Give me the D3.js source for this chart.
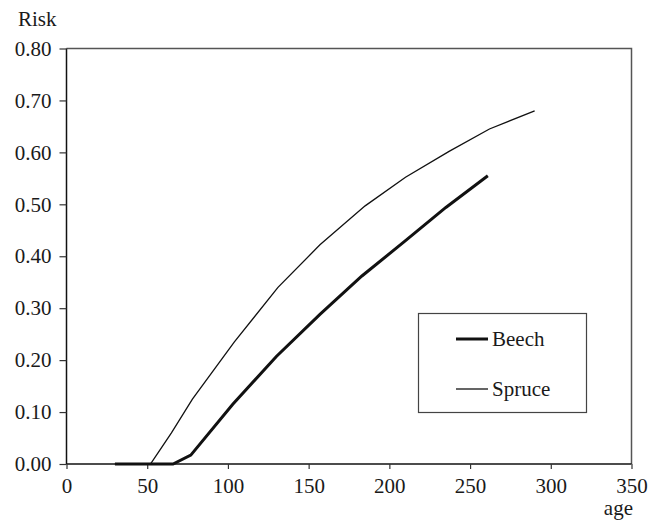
<!DOCTYPE html>
<html>
<head>
<meta charset="utf-8">
<script src="https://cdn.jsdelivr.net/npm/d3@7"></script>
<style>
  body { margin: 0; background: #fff; }
  svg text { font-family: "Liberation Serif", "Times New Roman", serif; font-size: 21px; fill: #1a1a1a; }
</style>
</head>
<body>
<svg id="chart" width="660" height="522"></svg>
<script>
// risk by stand age
var beechAge  = [30, 66, 77, 103, 130, 157, 183, 210, 235, 261];
var beechRisk = [0, 0, 0.017, 0.115, 0.207, 0.288, 0.362, 0.43, 0.494, 0.555];
var spruceAge  = [30, 52, 65, 78, 104, 131, 157, 185, 210, 237, 262, 290];
var spruceRisk = [0, 0, 0.06, 0.125, 0.235, 0.34, 0.422, 0.497, 0.552, 0.602, 0.645, 0.68];
var xTicks = [0, 50, 100, 150, 200, 250, 300, 350];
var yTicks = [0, 0.1, 0.2, 0.3, 0.4, 0.5, 0.6, 0.7, 0.8];
var seriesNames = ["Beech", "Spruce"];

// plot box (window.top is taken, so no "top" here)
var pLeft = 66.5, pRight = 631.5, pTop = 48.5, pBottom = 464;

var svg = d3.select("#chart");
var x = d3.scaleLinear().domain([0, 350]).range([pLeft, pRight]);
var y = d3.scaleLinear().domain([0, 0.8]).range([pBottom, pTop]);

// frame on top and right
svg.append("path")
  .attr("d", "M" + pLeft + "," + pTop + "H" + pRight + "V" + pBottom)
  .attr("fill", "none").attr("stroke", "#555").attr("stroke-width", 1.5);

var yAxis = svg.append("g")
  .attr("transform", "translate(" + pLeft + ",0)")
  .call(d3.axisLeft(y).tickValues(yTicks).tickFormat(d3.format(".2f")).tickSize(7).tickPadding(8));
var xAxis = svg.append("g")
  .attr("transform", "translate(0," + pBottom + ")")
  .call(d3.axisBottom(x).tickValues(xTicks).tickFormat(d3.format("d")).tickSize(5).tickPadding(9));

svg.selectAll(".domain").attr("stroke", "#111").attr("stroke-width", 1.5);
svg.selectAll(".tick line").attr("stroke", "#333").attr("stroke-width", 1.2);
svg.selectAll(".tick text").attr("font-size", 21).attr("font-family", "Liberation Serif").attr("fill", "#1a1a1a");
// drop the end caps of the domain paths
yAxis.select(".domain").attr("d", "M0," + pBottom + "V" + pTop);
xAxis.select(".domain").attr("d", "M" + pLeft + ",0H" + pRight);

svg.append("text").attr("x", 18).attr("y", 26).text("Risk");
svg.append("text").attr("x", 633).attr("y", 515).attr("text-anchor", "end").text("age");

var line = d3.line().x(function (d) { return x(d[0]); }).y(function (d) { return y(d[1]); });

svg.append("path")
  .datum(d3.zip(spruceAge, spruceRisk))
  .attr("d", line).attr("fill", "none").attr("stroke", "#111").attr("stroke-width", 1.3);
svg.append("path")
  .datum(d3.zip(beechAge, beechRisk))
  .attr("d", line).attr("fill", "none").attr("stroke", "#111").attr("stroke-width", 3);

// legend
var lg = svg.append("g");
lg.append("rect").attr("x", 418.5).attr("y", 313.5).attr("width", 168).attr("height", 99)
  .attr("fill", "#fff").attr("stroke", "#444").attr("stroke-width", 1.2);
var widths = [3, 1.3];
seriesNames.forEach(function (name, i) {
  var yy = 339 + i * 50;
  lg.append("line").attr("x1", 456).attr("x2", 488).attr("y1", yy).attr("y2", yy)
    .attr("stroke", "#111").attr("stroke-width", widths[i]);
  lg.append("text").attr("x", 492).attr("y", yy + 7).text(name);
});
</script>
</body>
</html>
